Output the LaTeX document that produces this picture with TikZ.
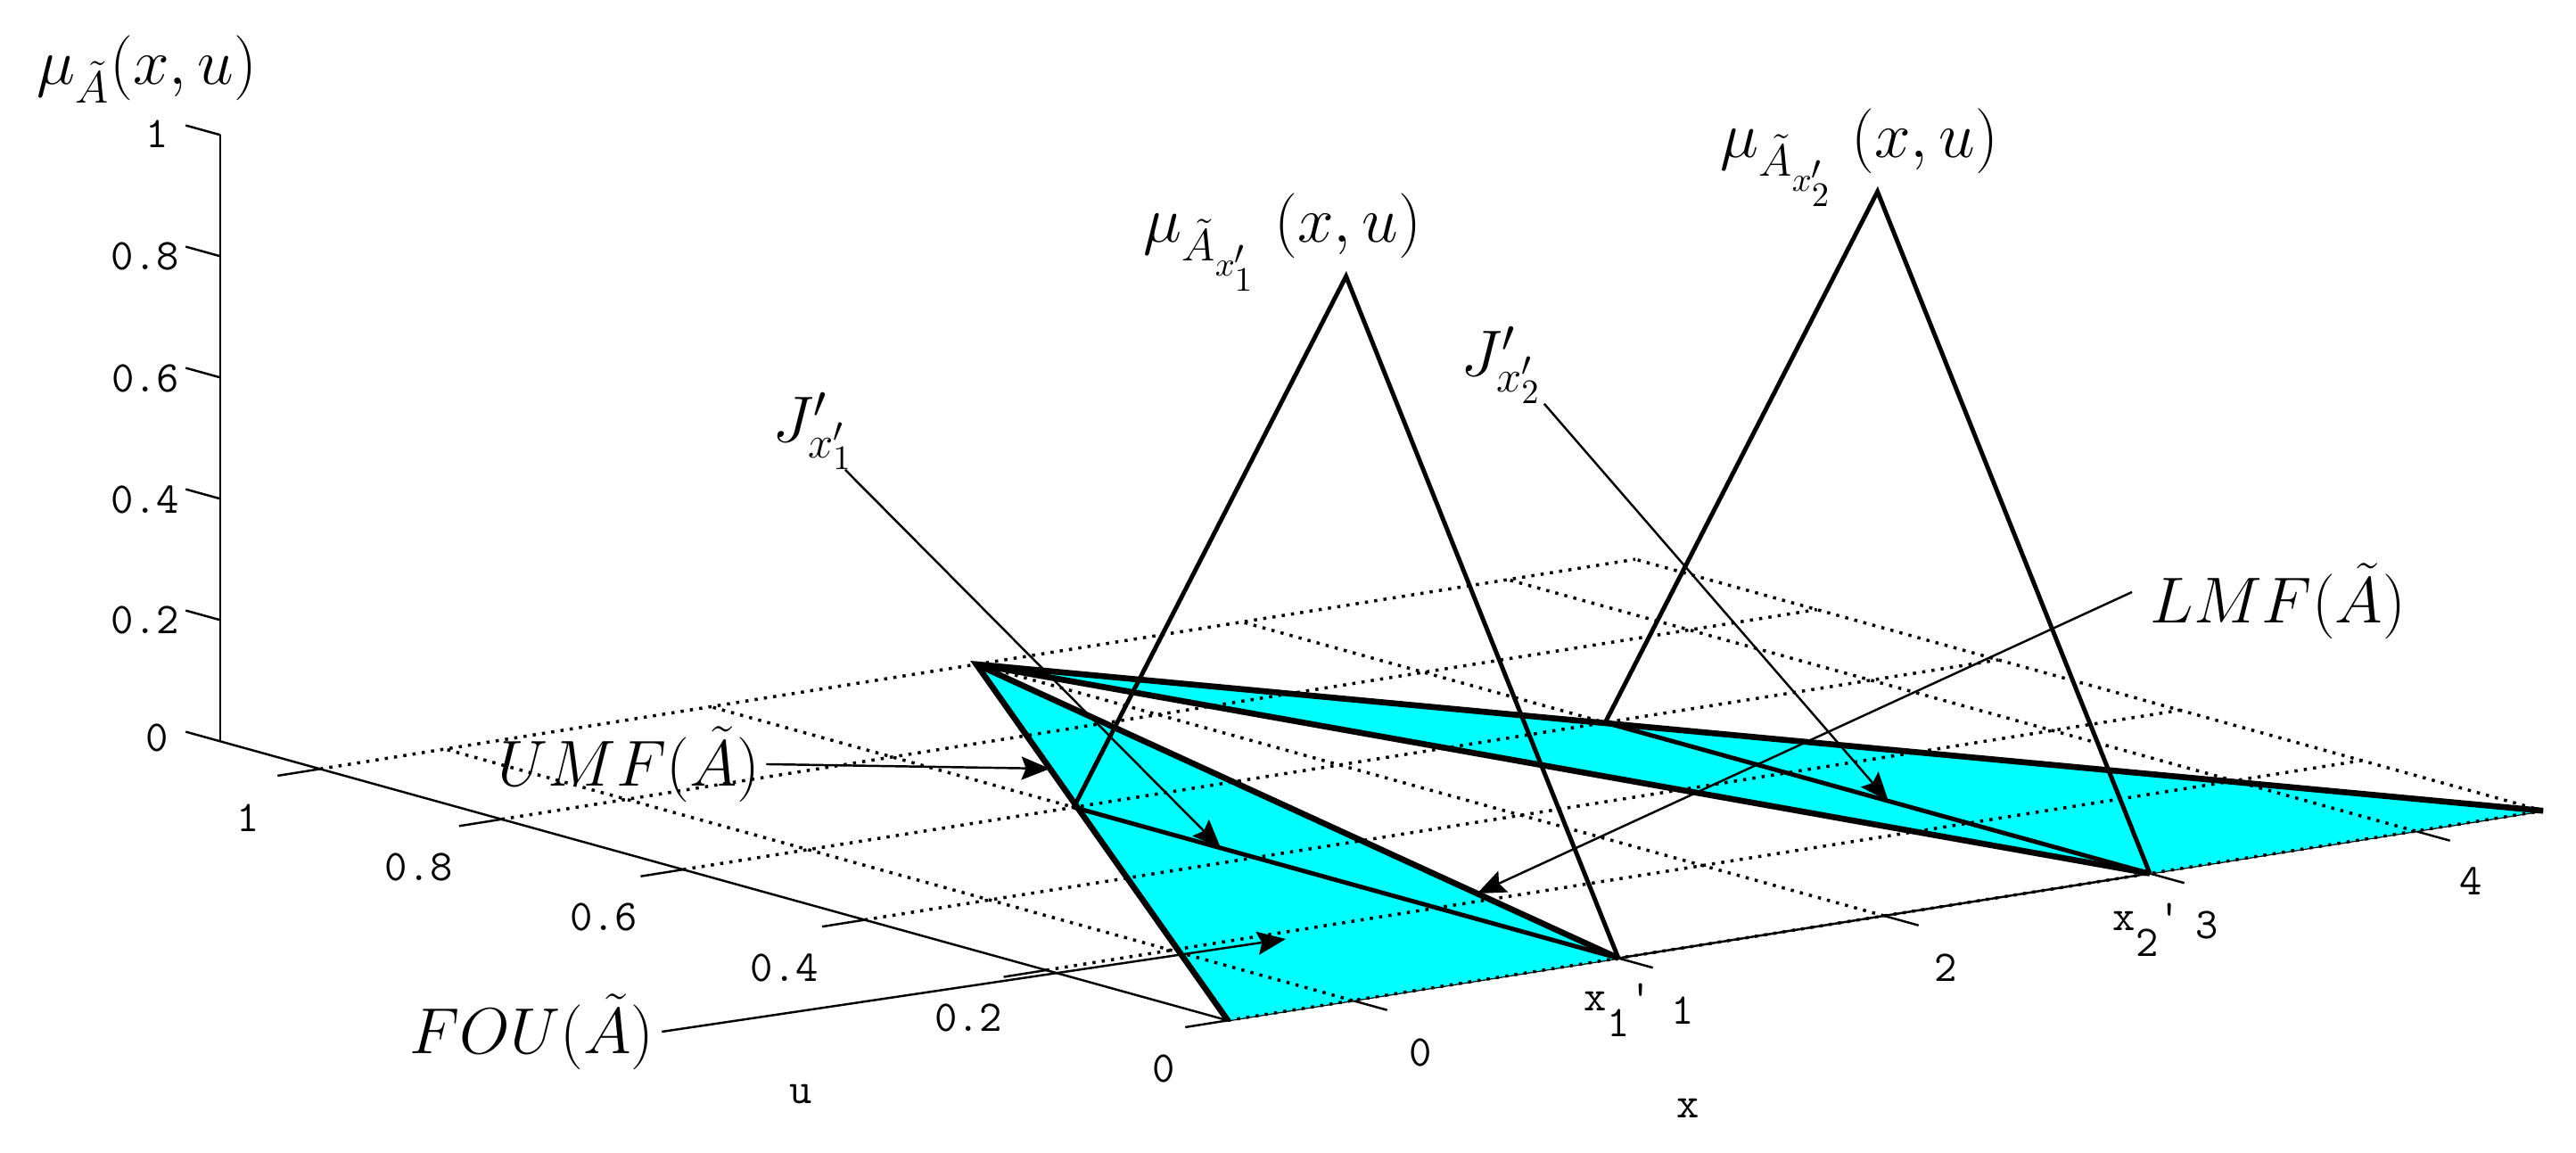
\documentclass[tikz,border=0pt]{standalone}
\usetikzlibrary{arrows.meta,calc}
\definecolor{fouc}{RGB}{0,255,255}
\begin{document}
\begin{tikzpicture}[
  axisline/.style={line width=0.7pt, black},
  gridline/.style={line width=1.0pt, dash pattern=on 0.035cm off 0.07cm},
  fouedge/.style={line width=1.9pt},
  smf/.style={line width=1.4pt},
  leader/.style={line width=0.7pt, -{Stealth[length=0.32cm,width=0.26cm,inset=0.05cm]}},
  ticklab/.style={font=\fontsize{14}{16}\selectfont\ttfamily, inner sep=0pt},
  mathlab/.style={font=\fontsize{22.5}{26}\selectfont, inner sep=0pt},
]
\useasboundingbox (0,0) rectangle (28.89,-12.93);
\begin{scope}[shift={(15.17,-11.22)}, x={(2.98cm,0.475cm)}, y={(-10.18cm,2.82cm)}, z={(0cm,6.8cm)}]
  \coordinate (A) at (-0.47,0,0);
  \coordinate (B) at (2,1,0);
  \coordinate (C) at (4.48,0,0);
  \coordinate (D) at (1,0,0);
  \coordinate (F) at (3,0,0);
  \coordinate (D6) at (1,0.6,0);
  \coordinate (F6) at (3,0.6,0);
  \coordinate (T1) at (1,0.3,1);
  \coordinate (T2) at (3,0.3,1);
  \coordinate (O) at (-0.47,1.11,0);
  \coordinate (Ztop) at (-0.47,1.11,1);
  % axes
  \draw[axisline] (A) -- (C);
  \draw[axisline] (A) -- (O);
  \draw[axisline] (O) -- (Ztop);
  \foreach \m in {0,0.2,0.4,0.6,0.8,1} \draw[axisline] (-0.47,1.11,\m) -- (-0.47,1.148,\m);
  \foreach \u in {0,0.2,0.4,0.6,0.8,1} \draw[axisline] (-0.47,\u,0) -- (-0.63,\u,0);
  \foreach \x in {0,1,2,3,4} \draw[axisline] (\x,0,0) -- (\x,-0.038,0);
  % FOU
  \fill[fouc] (A) -- (B) -- (D) -- cycle;
  \fill[fouc] (B) -- (C) -- (F) -- cycle;
  % grid
  \foreach \u in {0,0.2,0.4,0.6,0.8,1} \draw[gridline] (-0.47,\u,0) -- (4.48,\u,0);
  \foreach \x in {0,1,2,3,4,4.48} \draw[gridline] (\x,0,0) -- (\x,1,0);
  % secondary MFs
  \draw[smf, line join=miter] (D6) -- (T1) -- (D);
  \draw[smf, line join=miter] (F6) -- (T2) -- (F);
  \draw[smf] (D6) -- (D);
  \draw[smf] (F6) -- (F);
  % UMF and LMF
  \draw[fouedge, line join=miter, miter limit=3] (A) -- (B) -- (C);
  \draw[fouedge, line join=round] (D) -- (B) -- (F);
\end{scope}
\coordinate (fouTip) at (14.42,-10.53);
% tick labels
\foreach \t/\px/\py in {1/1.76/1.50, 0.8/1.63/2.87, 0.6/1.63/4.24, 0.4/1.63/5.60, 0.2/1.63/6.95, 0/1.76/8.27}
  \node[ticklab] at (\px,-\py) {\t};
\foreach \t/\px/\py in {1/2.78/9.17, 0.8/4.70/9.72, 0.6/6.77/10.28, 0.4/8.80/10.85, 0.2/10.86/11.41, 0/13.05/11.98}
  \node[ticklab] at (\px,-\py) {\t};
\foreach \t/\px/\py in {0/15.93/11.80, 1/18.87/11.33, 2/21.82/10.85, 3/24.75/10.37, 4/27.71/9.88}
  \node[ticklab] at (\px,-\py) {\t};
\node[ticklab] (ulab) at (8.98,-12.27) {u};
\node[ticklab] (xlab) at (18.93,-12.43) {x};
\node[ticklab, anchor=base west] (x1p) at (17.76,-11.33) {x\raisebox{-1.4ex}{1}\textquotesingle};
\node[ticklab, anchor=base west] (x2p) at (23.69,-10.43) {x\raisebox{-1.4ex}{2}\textquotesingle};
% math labels
\node[mathlab, anchor=base west] (tmu) at (0.41,-0.94) {$\mu_{\tilde{A}}(x,u)$};
\node[mathlab, anchor=base west] (lmu1) at (12.82,-2.71) {$\mu_{\tilde{A}_{x'_1}}\;(x,u)$};
\node[mathlab, anchor=base west] (lmu2) at (19.29,-1.76) {$\mu_{\tilde{A}_{x'_2}}\;(x,u)$};
\node[mathlab, anchor=base west] (lJ1) at (8.66,-4.95) {$J'_{x'_1}$};
\node[mathlab, anchor=base west] (lJ2) at (16.38,-4.21) {$J'_{x'_2}$};
\node[mathlab, anchor=base west] (lUMF) at (5.58,-8.81) {$UMF(\tilde{A})$};
\node[mathlab, anchor=base west] (lFOU) at (4.59,-11.81) {$FOU(\tilde{A})$};
\node[mathlab, anchor=base west] (lLMF) at (24.11,-6.98) {$LMF(\tilde{A})$};
% leaders
\draw[leader] ([xshift=0.06cm]lUMF.east) -- ($(A)!0.707!(B)$);
\draw[leader] ([xshift=0.08cm]lFOU.east) -- (fouTip);
\draw[leader] ([xshift=-0.2cm,yshift=0.1cm]lLMF.west) -- ($(B)!0.78!(D)$);
\draw[leader] ([xshift=-0.1cm]lJ1.south east) -- ($(D6)!0.27!(D)$);
\draw[leader] ([xshift=0.02cm]lJ2.south east) -- ($(F6)!0.52!(F)$);
\end{tikzpicture}
\end{document}
